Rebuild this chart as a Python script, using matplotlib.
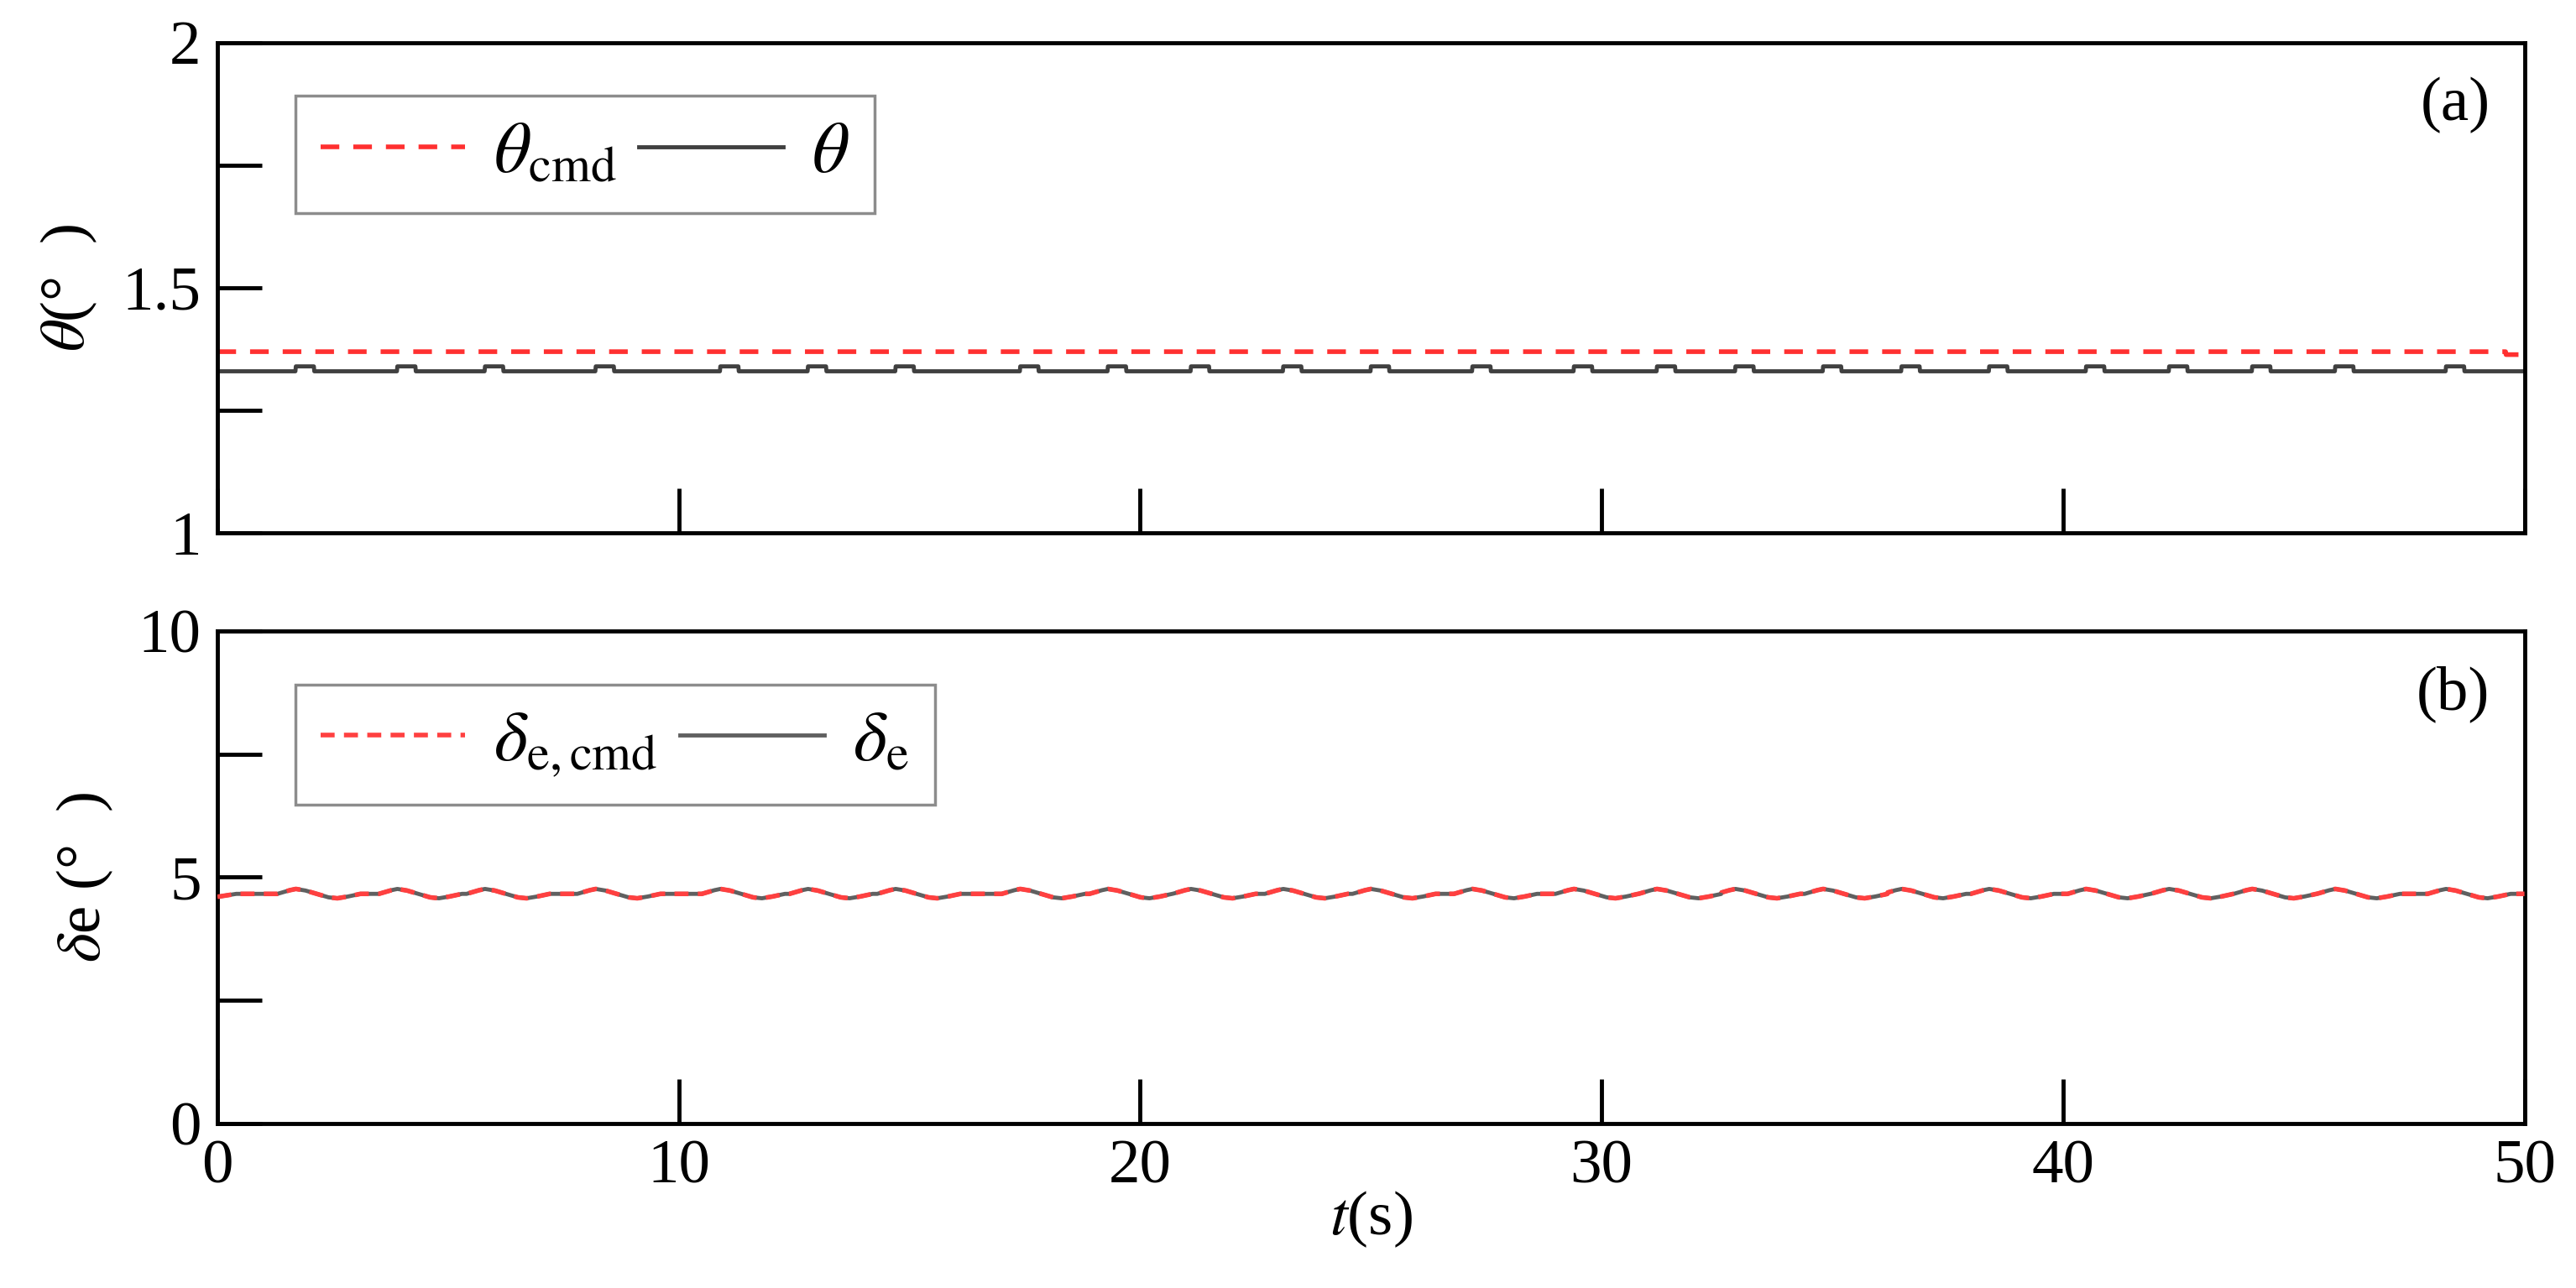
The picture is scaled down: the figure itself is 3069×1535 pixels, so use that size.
import numpy as np
import matplotlib
matplotlib.use("Agg")
import matplotlib.pyplot as plt

plt.rcParams['font.family'] = ['Liberation Serif', 'DejaVu Serif']
plt.rcParams['mathtext.fontset'] = 'stix'

# data
t_end = 50.0
theta_cmd_level = 1.37
theta_cmd_end = 1.364
theta_base = 1.33
theta_bump = 1.34
bump_times = [1.7, 3.9, 5.8, 8.2, 10.9, 12.8, 14.7, 17.4, 19.3, 21.1, 23.1, 25.0,
              27.2, 29.4, 31.2, 32.9, 34.8, 36.5, 38.4, 40.5, 42.3, 44.1, 45.9, 48.3]
bump_width = 0.4
de_base = 4.66
de_up = 4.76
de_down = 4.57

# build signals
t = np.linspace(0, t_end, 5001)
theta = np.full_like(t, theta_base)
for b in bump_times:
    theta[(t >= b) & (t < b + bump_width)] = theta_bump
theta_cmd = np.where(t < 49.6, theta_cmd_level, theta_cmd_end)

kt, kv = [0.0, 0.4], [4.6, de_base]
for b in bump_times:
    kt += [b - 0.4, b - 0.15, b, b + 0.2, b + 0.45, b + 0.7, b + 0.9, b + 1.1, b + 1.4]
    kv += [de_base, de_up - 0.03, de_up, de_up - 0.03, de_base, de_down + 0.02, de_down, de_down + 0.03, de_base]
kt += [t_end]
kv += [de_base]
de = np.interp(t, kt, kv)
de_cmd = de

fig = plt.figure(figsize=(30.69, 15.35), dpi=100)
ax1 = fig.add_axes([0.0844, 0.586, 0.8956, 0.381])
ax2 = fig.add_axes([0.0844, 0.128, 0.8956, 0.382])

FS = 54
for ax in (ax1, ax2):
    for s in ax.spines.values():
        s.set_linewidth(3.5)
    ax.tick_params(direction='in', length=38, width=3.5, labelsize=FS, pad=14)
    ax.set_xlim(0, 50)
    ax.set_xticks([0, 10, 20, 30, 40, 50])

ax1.plot(t, theta_cmd, color='#ff3030', ls=(0, (4, 3)), lw=4, label=r'$\theta_{\rm cmd}$')
ax1.plot(t, theta, color='#404040', lw=3.5, label=r'$\theta$')
ax1.set_ylim(1, 2)
ax1.set_yticks([1, 1.25, 1.5, 1.75, 2])
ax1.set_yticklabels(['1', '', '1.5', '', '2'])
ax1.set_xticklabels([])
ax1.set_ylabel(r'$\theta$(°  )', fontsize=FS, labelpad=20)
ax1.text(0.985, 0.93, '(a)', transform=ax1.transAxes, ha='right', va='top', fontsize=FS)

ax2.plot(t, de, color='#606060', lw=3.5, label=r'$\delta_{\rm e}$', zorder=2)
ax2.plot(t, de_cmd, color='#ff4040', ls=(0, (6, 1)), lw=4, label=r'$\delta_{\rm e,cmd}$', zorder=3)
ax2.set_ylim(0, 10)
ax2.set_yticks([0, 2.5, 5, 7.5, 10])
ax2.set_yticklabels(['0', '', '5', '', '10'])
ax2.set_xlabel(r'$t$(s)', fontsize=FS, labelpad=-6)
ax2.set_ylabel(r'$\delta$e (°  )', fontsize=FS, labelpad=20)
ax2.text(0.985, 0.93, '(b)', transform=ax2.transAxes, ha='right', va='top', fontsize=FS)

for ax, order in ((ax1, [0, 1]), (ax2, [1, 0])):
    h, l = ax.get_legend_handles_labels()
    if ax is ax2:
        h[1].set_linestyle((0, (3, 2)))
    leg = ax.legend([h[i] for i in order], [l[i] for i in order], loc='upper left',
                    ncol=2, fontsize=62, frameon=True, fancybox=False,
                    handlelength=2.0, columnspacing=0.3, handletextpad=0.4,
                    borderpad=0.35, bbox_to_anchor=(0.018, 0.965))
    leg.get_frame().set_edgecolor('#707070')
    leg.get_frame().set_linewidth(2.5)

fig.savefig('out.png', dpi=100)
